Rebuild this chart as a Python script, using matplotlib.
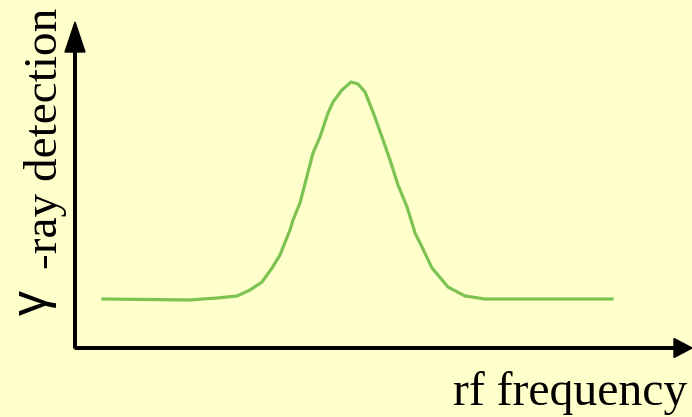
import matplotlib.pyplot as plt

# detector response vs rf frequency (arbitrary units)
freq = [28, 115, 128, 142, 162, 175, 187, 197, 205, 215, 218, 225, 238, 245, 253,
        258, 267, 276, 283, 290, 298, 307, 315, 323, 332, 337, 340, 347, 357, 373,
        390, 410, 432, 537]
counts = [49, 48, 49, 50, 52, 58, 66, 80, 93, 118, 128, 145, 195, 211, 235,
          246, 258, 266, 264, 256, 236, 211, 188, 163, 141, 125, 115, 101, 80, 61,
          52, 49, 49, 49]

bg = '#FFFFCC'
fig = plt.figure(figsize=(6.92, 4.17), dpi=100, facecolor=bg)
ax = fig.add_axes([0, 0, 1, 1])
ax.set_facecolor(bg)
ax.set_xlim(-75, 617)
ax.set_ylim(-69, 348)
ax.axis('off')

ax.plot(freq, counts, color='#7DC352', lw=2.3, solid_joinstyle='round')

# axes drawn as arrows
ax.arrow(0, 0, 0, 326, width=2.6, head_width=20, head_length=30,
         length_includes_head=True, color='black')
ax.arrow(0, 0, 617, 0, width=2.6, head_width=19, head_length=18,
         length_includes_head=True, color='black')

serif = ['Liberation Serif', 'DejaVu Serif']
ax.text(-28, 33, 'γ', rotation=90, rotation_mode='anchor',
        ha='left', va='baseline', fontsize=36, family=['Liberation Sans', 'DejaVu Sans'])
ax.text(-18, 79, '-ray detection', rotation=90, rotation_mode='anchor',
        ha='left', va='baseline', fontsize=34, family=serif)
ax.text(612, -57, 'rf frequency', ha='right', va='baseline',
        fontsize=34.3, family=serif)

fig.savefig('out.png', dpi=100, facecolor=bg)
